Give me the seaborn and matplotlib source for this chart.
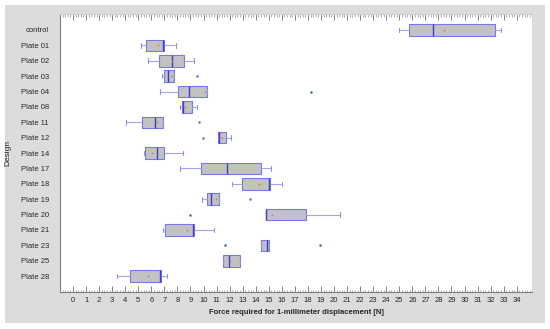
import numpy as np
import pandas as pd
import matplotlib
matplotlib.use("Agg")
import matplotlib.pyplot as plt
from matplotlib.patches import Rectangle
from matplotlib.ticker import FixedLocator, MultipleLocator
import seaborn as sns

# five-number summaries (N)
designs = ['control', 'Plate 01', 'Plate 02', 'Plate 03', 'Plate 04', 'Plate 08',
           'Plate 11', 'Plate 12', 'Plate 14', 'Plate 17', 'Plate 18', 'Plate 19',
           'Plate 20', 'Plate 21', 'Plate 23', 'Plate 25', 'Plate 28']
whisker_low = [25.0, 5.2, 5.77, 6.82, 6.67, 8.2, 4.04, 11.11, 5.44, 8.2, 12.16, 9.86,
               14.76, 6.87, 14.43, 11.47, 3.4]
q1 = [25.75, 5.6, 6.56, 6.97, 8.07, 8.33, 5.31, 11.11, 5.54, 9.78, 12.97, 10.29,
      14.76, 7.07, 14.43, 11.47, 4.37]
median = [27.6, 6.9, 7.6, 7.3, 8.91, 8.4, 6.28, 11.19, 6.46, 11.82, 15.04, 10.57,
          14.76, 9.17, 14.89, 11.98, 6.67]
q3 = [32.3, 6.95, 8.53, 7.71, 10.24, 9.09, 6.92, 11.72, 7.0, 14.41, 15.1, 11.16,
      17.88, 9.27, 15.02, 12.77, 6.72]
whisker_high = [32.8, 7.87, 9.27, 7.71, 10.24, 9.48, 6.92, 12.1, 8.4, 15.17, 15.99, 11.16,
                20.46, 10.83, 15.02, 12.77, 7.18]

mean_design = ['control', 'Plate 01', 'Plate 02', 'Plate 03', 'Plate 04', 'Plate 08',
               'Plate 11', 'Plate 12', 'Plate 14', 'Plate 18', 'Plate 19', 'Plate 20',
               'Plate 21', 'Plate 25', 'Plate 28']
mean_value = [28.43, 6.5, 7.6, 7.6, 10.09, 8.58, 6.41, 11.4, 6.08, 14.28, 10.98, 15.27,
              8.71, 12.03, 5.77]

outlier_design = ['Plate 03', 'Plate 11', 'Plate 12', 'Plate 19']
outlier_value = [9.53, 9.66, 9.94, 13.59]
far_design = ['Plate 04', 'Plate 20', 'Plate 23', 'Plate 23']
far_value = [18.24, 8.97, 11.65, 18.93]

x_ticks = list(range(0, 35))

rows = []
for i, d in enumerate(designs):
    for v in (whisker_low[i], q1[i], median[i], q3[i], whisker_high[i]):
        rows.append((d, v))
box_df = pd.DataFrame(rows, columns=['Design', 'Force'])
mean_df = pd.DataFrame({'Design': mean_design, 'Force': mean_value})
out_df = pd.DataFrame({'Design': outlier_design, 'Force': outlier_value})
far_df = pd.DataFrame({'Design': far_design, 'Force': far_value})

sns.set_style('ticks')
plt.rcParams['font.family'] = ['Liberation Sans', 'DejaVu Sans']

fig = plt.figure(figsize=(5.5, 3.29), dpi=100)
fig.patch.set_facecolor('white')
fig.patches.append(Rectangle((5 / 550, 6 / 329), 540 / 550, 318 / 329,
                             transform=fig.transFigure, facecolor='#dcdcdc',
                             edgecolor='none', zorder=-10))
ax = fig.add_axes([60 / 550, 1 - 292 / 329, 472 / 550, 278 / 329])
ax.set_facecolor('white')

sns.boxplot(data=box_df, x='Force', y='Design', order=designs, ax=ax,
            whis=np.inf, width=0.75, color='#c2c2c2', saturation=1,
            linecolor='#7878e6', linewidth=0.8, showfliers=False,
            medianprops={'color': '#3c3cd2', 'linewidth': 1.0},
            whiskerprops={'color': '#a4a4f2', 'linewidth': 0.8},
            capprops={'color': '#9090ee', 'linewidth': 0.8},
            capwidths=0.3)

sns.stripplot(data=mean_df, x='Force', y='Design', order=designs, ax=ax,
              jitter=False, color='#d0824a', size=1.4, linewidth=0)
sns.stripplot(data=out_df, x='Force', y='Design', order=designs, ax=ax,
              jitter=False, color='#6a6ae8', size=1.8, linewidth=0)
sns.stripplot(data=far_df, x='Force', y='Design', order=designs, ax=ax,
              jitter=False, color='#3a6f8a', size=1.8, linewidth=0)

ax.set_xlim(-1.0, 35.17)
ax.set_ylim(17.03, -1.04)
ax.xaxis.set_major_locator(FixedLocator(x_ticks))
ax.xaxis.set_minor_locator(MultipleLocator(0.2))
ax.tick_params(axis='x', which='major', direction='in', length=4.5, width=0.6,
               color='#707070', top=True, labelsize=5.5, pad=3.5)
ax.tick_params(axis='x', which='minor', direction='in', length=1.8, width=0.5,
               color='#909090', top=True)
ax.tick_params(axis='y', length=0, labelsize=5.5, pad=8)

for side in ['left', 'bottom']:
    ax.spines[side].set_color('#808080')
    ax.spines[side].set_linewidth(0.8)
ax.spines['top'].set_color('#d0d0d0')
ax.spines['right'].set_visible(False)

ax.set_xlabel('Force required for 1-millimeter displacement [N]', fontsize=5.5,
              fontweight='bold', labelpad=4)
ax.set_ylabel('Design', fontsize=6)
ax.yaxis.set_label_coords(-0.104, 0.5)

fig.savefig('out.png', dpi=100, facecolor=fig.get_facecolor())
